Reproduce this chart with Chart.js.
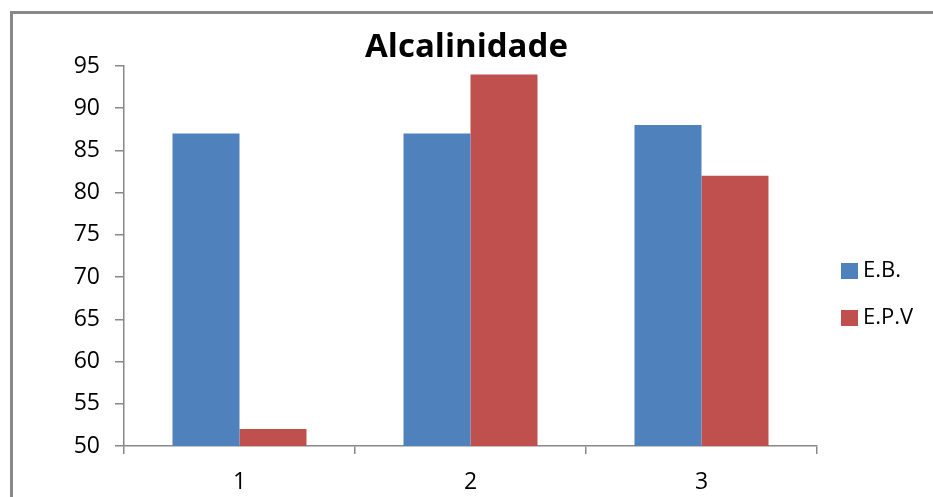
<!DOCTYPE html>
<html>
<head>
<meta charset="utf-8">
<script src="https://cdn.jsdelivr.net/npm/chart.js@4/dist/chart.umd.min.js"></script>
<style>
  html, body { margin: 0; padding: 0; background: #fff; }
  #wrap { position: relative; width: 933px; height: 497px; overflow: hidden; }
  #frame { position: absolute; left: 10px; top: 11px; width: 1000px; height: 600px;
           border-top: 3px solid #888; border-left: 3px solid #888; }
  canvas { position: absolute; left: 0; top: 0; }
</style>
</head>
<body>
<div id="wrap">
  <div id="frame"></div>
  <canvas id="c" width="933" height="497"></canvas>
</div>
<script>
// Alkalinity readings per sample point
const categories = ['1', '2', '3'];
const seriesNames = ['E.B.', 'E.P.V'];
const ebValues = [87, 87, 88];
const epvValues = [52, 94, 82];
const yTicks = [50, 55, 60, 65, 70, 75, 80, 85, 90, 95];

const FONT = "'Open Sans', sans-serif";
const AXIS = '#888888';

// Legend drawn to the right of the plot: square swatch + label
const sideLegend = {
  id: 'sideLegend',
  afterDraw(chart) {
    const ctx = chart.ctx;
    ctx.save();
    ctx.font = '22px ' + FONT;
    ctx.textBaseline = 'middle';
    ctx.textAlign = 'left';
    const x0 = 841, y0 = 271, gap = 47;
    chart.data.datasets.forEach((ds, i) => {
      const yc = y0 + i * gap;
      ctx.fillStyle = ds.backgroundColor;
      ctx.fillRect(x0, yc - 8, 17, 16);
      ctx.fillStyle = '#000';
      ctx.fillText(ds.label, x0 + 22, yc);
    });
    ctx.restore();
  }
};

new Chart(document.getElementById('c'), {
  type: 'bar',
  data: {
    labels: categories,
    datasets: [
      { label: seriesNames[0], data: ebValues, backgroundColor: '#4F81BD', yAxisID: 'y' },
      { label: seriesNames[1], data: epvValues, backgroundColor: '#C0504D', yAxisID: 'y' }
    ]
  },
  options: {
    responsive: false,
    animation: false,
    layout: { padding: 0 },
    datasets: { bar: { categoryPercentage: 0.58, barPercentage: 1.0 } },
    plugins: {
      legend: { display: false },
      tooltip: { enabled: false },
      title: {
        display: true,
        text: 'Alcalinidade',
        color: '#000',
        font: { family: FONT, size: 33, weight: 'bold', lineHeight: 1.1 },
        padding: { top: 29, bottom: 0.7 }
      }
    },
    scales: {
      x: {
        grid: { display: true, drawOnChartArea: false, drawTicks: true, tickLength: 8,
                color: AXIS, lineWidth: 1.5, offset: true },
        border: { display: true, color: AXIS, width: 1.5 },
        ticks: { color: '#000', font: { family: FONT, size: 23 }, padding: 15 },
        afterFit(scale) { scale.height = 51; }
      },
      y: {
        min: 50,
        max: 95,
        afterBuildTicks(scale) { scale.ticks = yTicks.map(v => ({ value: v })); },
        grid: { display: true, drawOnChartArea: false, drawTicks: true, tickLength: 9,
                color: AXIS, lineWidth: 1.5 },
        border: { display: true, color: AXIS, width: 1.5 },
        ticks: { color: '#000', font: { family: FONT, size: 23 }, padding: 15 },
        afterFit(scale) { scale.width = 124; }
      },
      // empty right-hand axis that reserves the space where the legend sits
      legendSpace: {
        type: 'linear',
        position: 'right',
        min: 50,
        max: 95,
        grid: { display: false },
        border: { display: false },
        ticks: { display: false },
        afterFit(scale) { scale.width = 116; }
      }
    }
  },
  plugins: [sideLegend]
});
</script>
</body>
</html>
